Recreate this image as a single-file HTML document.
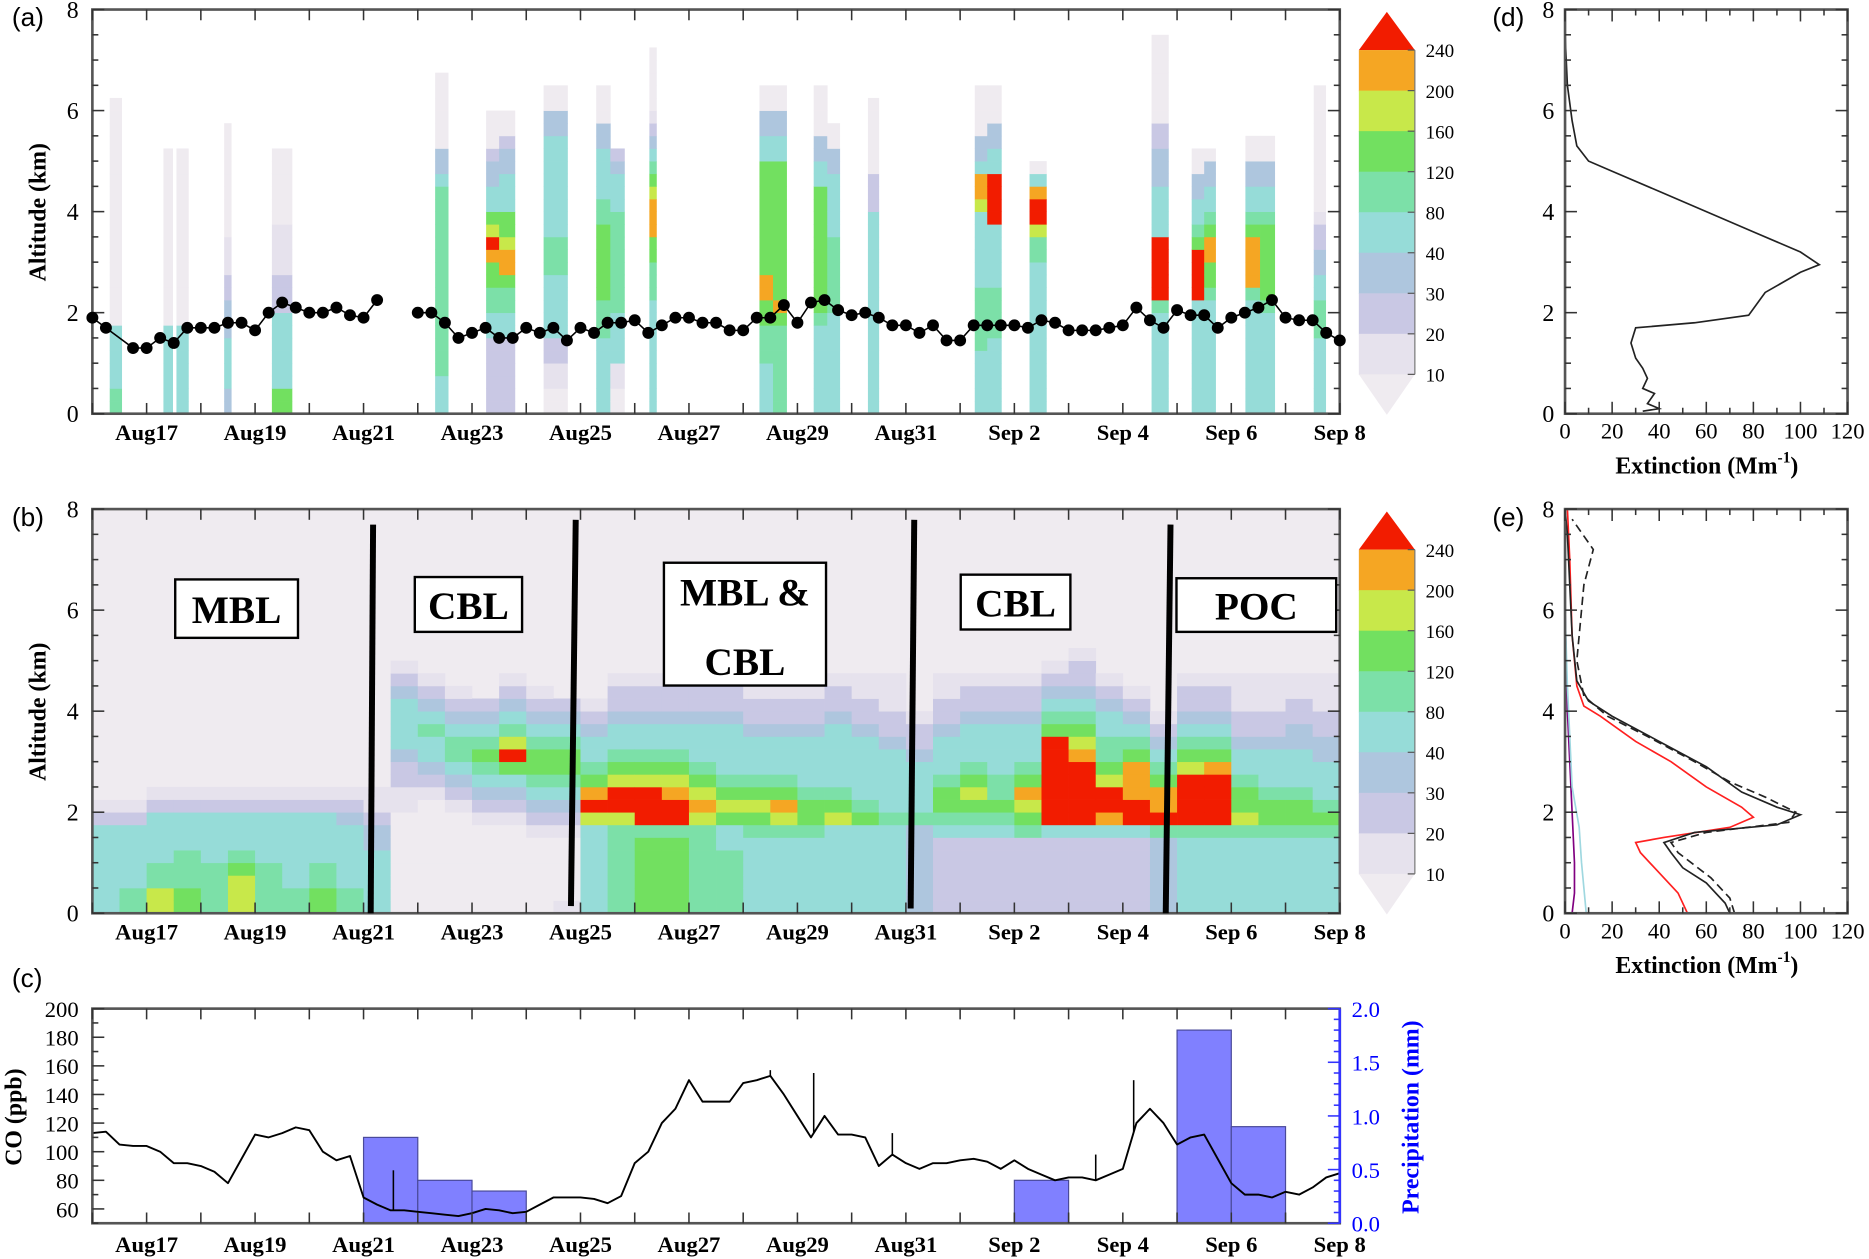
<!DOCTYPE html>
<html><head><meta charset="utf-8"><style>
html,body{margin:0;padding:0;background:#fff;}
svg{display:block;}
text{font-family:"Liberation Serif",serif;}
</style></head><body>
<svg id="fig" xmlns="http://www.w3.org/2000/svg" width="1869" height="1259" viewBox="0 0 1568 1056" preserveAspectRatio="none"></svg>
<script>
// ---------- DATA ----------
const levelColors = ['#efebf0','#e6e2ed','#c9c8e4','#aec6de','#96dcd8','#7ce0a8','#72e060','#c8e84a','#f5a623','#f21c00'];
const cbLabels = ['240','200','160','120','80','40','30','20','10'];
const dayLabels = ['Aug17','Aug19','Aug21','Aug23','Aug25','Aug27','Aug29','Aug31','Sep 2','Sep 4','Sep 6','Sep 8'];
const dayLabelPos = [1,3,5,7,9,11,13,15,17,19,21,23];
// panel a lidar columns [startDay, endDay, levels per 0.25 km bin]
const aCols = [
 [0.32,0.54,"5544444000000000000000000"],
 [1.31,1.48,"444444400000000000000"],
 [1.55,1.77,"444444400000000000000"],
 [2.43,2.56,"33444433322111000000000"],
 [3.31,3.68,"664444442221111000000"],
 [6.32,6.56,"444555555555555555433000000"],
 [7.26,7.50,"222222445566897644332000"],
 [7.50,7.79,"222222445568876644433200"],
 [8.32,8.76,"00112244444555444444443300"],
 [9.29,9.55,"44444455566666655444433000"],
 [9.55,9.81,"001144445555555544432"],
 [10.27,10.40,"44444444455566888765432100000"],
 [12.30,12.55,"44445556688666666666443300"],
 [12.55,12.80,"55555556866666666666443300"],
 [13.30,13.55,"44444445666666666644330000"],
 [13.55,13.78,"44444444555555444443300"],
 [14.30,14.50,"4444444444444444222000000"],
 [16.27,16.50,"44444555554444447884330000"],
 [16.50,16.76,"44444455554444499994433000"],
 [17.28,17.59,"44444444444455799840"],
 [19.53,19.84,"444444445999994444333220000000"],
 [20.27,20.50,"444444444999965443300"],
 [20.50,20.71,"444444444566886544330"],
 [21.26,21.53,"4444444445888865443300"],
 [21.53,21.80,"4444444456666665443300"],
 [22.52,22.74,"44444455544332210000000000"]
];
// panel a boundary-layer heights
const blTimes = [0,0.25,0.75,1,1.25,1.5,1.75,2,2.25,2.5,2.75,3,3.25,3.5,3.75,4,4.25,4.5,4.75,5,5.25,
 6,6.25,6.5,6.75,7,7.25,7.5,7.75,8,8.25,8.5,8.75,9,9.25,9.5,9.75,10,10.25,10.5,10.75,11,11.25,11.5,11.75,12,12.25,12.5,12.75,
 13,13.25,13.5,13.75,14,14.25,14.5,14.75,15,15.25,15.5,15.75,16,16.25,16.5,16.75,17,17.25,17.5,17.75,18,18.25,18.5,18.75,
 19,19.25,19.5,19.75,20,20.25,20.5,20.75,21,21.25,21.5,21.75,22,22.25,22.5,22.75,23];
const blAlts = [1.9,1.7,1.3,1.3,1.5,1.4,1.7,1.7,1.7,1.8,1.8,1.65,2.0,2.2,2.1,2.0,2.0,2.1,1.95,1.9,2.25,
 2.0,2.0,1.8,1.5,1.6,1.7,1.5,1.5,1.7,1.6,1.7,1.45,1.7,1.6,1.8,1.8,1.85,1.6,1.75,1.9,1.9,1.8,1.8,1.65,1.65,1.9,1.9,2.15,1.8,2.2,
 2.25,2.05,1.95,2.0,1.9,1.75,1.75,1.6,1.75,1.45,1.45,1.75,1.75,1.75,1.75,1.7,1.85,1.8,1.65,1.65,
 1.65,1.7,1.75,2.1,1.85,1.7,2.05,1.95,1.95,1.7,1.9,2.0,2.1,2.25,1.9,1.85,1.85,1.6,1.45];
// panel b: half-day columns, levels per 0.25 km bin
const bStart = [0,0.5,1,1.5,2,2.5,3,3.5,4,4.5,5,5.5,6,6.5,7,7.5,8,8.5,9,9.5,10,10.5,11,11.5,12,12.5,13,13.5,14,14.5,15,15.5,16,16.5,17,17.5,18,18.5,19,19.5,20,20.5,21,21.5,22,22.5];
const bCols = ["4444444210","5544444210","7755444421","6655544421","5555444421","7776544421","5555444421","5544444421","6655444421","5544444321",
 "4444433211","00000000112234444321","0000000001234454321","000000001234554321","00000001234565432","0000000123469754321","000000123456654321","10000012345665432",
 "44444447986544321","5555555799765443221","6666665999765443221","6666665998765443221","5555555787654443221","5555544676544443221","4444445676544432211",
 "4444445786544432211","4444445665444432211","4444444765444443221","4444444654444432211","4444444544444322111","3333333544443221","2222224566544432211",
 "2222224567654443221","2222224565544443221","2222225678654443221","22222249999999654321","222222499999876543221","2222224899765544321","222222499888654321",
 "3333335988654321","4444445999976543221","4444445999986543221","4444445766544322111","4444445665444322111","4444445665444332211","4444445654443322111"];
// panel c CO (ppb)
const coTimes = [0,0.25,0.5,0.75,1,1.25,1.5,1.75,2,2.25,2.5,2.75,3,3.25,3.5,3.75,4,4.25,4.5,4.75,5,5.25,5.5,5.75,6,6.25,6.5,6.75,7,7.25,7.5,7.75,8,8.25,8.5,8.75,9,9.25,9.5,9.75,
 10,10.25,10.5,10.75,11,11.25,11.5,11.75,12,12.25,12.5,12.75,13,13.25,13.5,13.75,14,14.25,14.5,14.75,15,15.25,15.5,15.75,16,16.25,16.5,16.75,17,17.25,17.5,17.75,
 18,18.25,18.5,18.75,19,19.25,19.5,19.75,20,20.25,20.5,20.75,21,21.25,21.5,21.75,22,22.25,22.5,22.75,23];
const coValues = [113,114,105,104,104,100,92,92,90,86,78,95,112,110,113,117,115,100,94,97,68,63,59,59,58,57,56,55,57,60,59,57,58,63,68,68,68,67,64,69,
 92,100,120,130,150,135,135,135,148,150,153,140,125,110,125,112,112,110,90,98,92,88,92,92,94,95,93,88,94,88,84,80,
 82,82,80,84,88,120,130,120,105,110,112,95,78,70,70,68,72,70,75,82,85];
const coSpikeTimes = [5.55,12.5,13.3,14.75,18.5,19.2];
const coSpikeValues = [87,157,155,113,98,150];
// precipitation (mm)
const prTimes = [5,6,7,17,20,21];
const prValues = [0.8,0.4,0.3,0.4,1.8,0.9];
// panel d extinction profile
const dExt = [33,40,35,38,33,35,33,30,28,30,55,78,85,100,108,100,80,60,40,20,10,5,3,1,0];
const dAlt = [0.05,0.1,0.2,0.4,0.5,0.7,0.9,1.1,1.4,1.7,1.8,1.95,2.4,2.8,2.95,3.2,3.6,4.0,4.4,4.8,5.0,5.3,5.8,6.5,7.5];
// panel e profiles
const eBlackExt = [70,68,60,50,45,42,55,90,100,90,75,60,40,20,10,5,3,2,1,0];
const eBlackAlt = [0,0.2,0.6,0.9,1.2,1.4,1.6,1.75,1.95,2.1,2.4,2.9,3.4,3.9,4.2,4.6,5.5,6.5,7.5,8];
const eDashExt = [72,70,62,48,45,60,95,98,85,70,55,35,18,8,5,8,12,3];
const eDashAlt = [0,0.3,0.7,1.2,1.4,1.6,1.8,2.0,2.3,2.6,3.0,3.5,3.9,4.3,5,6.5,7.2,7.8];
const eRedExt = [52,48,40,32,30,42,70,80,75,60,45,30,15,8,5,3,2,1];
const eRedAlt = [0,0.4,0.8,1.2,1.4,1.5,1.7,1.9,2.1,2.5,3.0,3.4,3.9,4.1,4.5,5.5,7,8];
const eCyanExt = [9,8,7,6,3,2,1,0];
const eCyanAlt = [0,0.5,1,1.7,2.5,3.5,4.5,6];
const ePurpExt = [3,4,4,3,2,1,0];
const ePurpAlt = [0,0.4,1,2,3,4,6];

// ---------- SCALES ----------
const NS='http://www.w3.org/2000/svg';
const svg=document.getElementById('fig');
const X=d=>77.5+d*45.5;
const Ya=z=>347-z*42.375;
const Yb=z=>766-z*42.375;
const Yco=v=>1026-(v-50)*1.2;
const Ypr=p=>1026-p*90;
const Xe=e=>1313+e*1.975;
const Yd=z=>347-z*42.375;
const Ye=z=>766-z*42.375;
function el(tag,attrs,parent){const e=document.createElementNS(NS,tag);for(const k in attrs)e.setAttribute(k,attrs[k]);(parent||svg).appendChild(e);return e;}
function grp(name){const g=el('g',{});


return g;}
function txt(parent,x,y,s,size,opts){const t=el('text',Object.assign({x:x,y:y,'font-size':size},opts||{}),parent);t.textContent=s;return t;}

// ---------- HEATMAPS ----------
function heat(g,d0,d1,str,Yf){for(let i=0;i<str.length;i++){const c=str[i];if(c==='.')continue;
 const r=el('rect',{x:X(d0),y:Yf((i+1)*0.25),width:X(d1)-X(d0)+0.3,height:Yf(0)-Yf(0.25)+0.3,fill:levelColors[+c]},g);
 
 }}
const gA=grp('panel-a-lidar');
aCols.forEach(c=>heat(gA,c[0],c[1],c[2],Ya));
const gB=grp('panel-b-model');
const bg=el('rect',{x:X(0),y:Yb(8),width:X(23)-X(0),height:Yb(0)-Yb(8),fill:levelColors[0]},gB);


bStart.forEach((d,i)=>heat(gB,d,Math.min(d+0.5,23),bCols[i],Yb));

// ---------- AXES ----------
function frame(g,x0,y0,x1,y1,name){const r=el('rect',{x:x0,y:y0,width:x1-x0,height:y1-y0,fill:'none',stroke:'#555','stroke-width':2.2},g);
 
 }
function timeAxis(g,y0,y1,ly){for(let d=0;d<=23;d++){el('line',{x1:X(d),x2:X(d),y1:y1,y2:y1-9,stroke:'#333','stroke-width':1.3},g);el('line',{x1:X(d),x2:X(d),y1:y0,y2:y0+9,stroke:'#333','stroke-width':1.3},g);}
 dayLabels.forEach((s,i)=>{const t=txt(g,X(dayLabelPos[i]),ly,s,19,{'text-anchor':'middle','font-weight':'bold'});
 
 });}
function altAxis(g,Yf,xl,xr,lx){for(let z=0;z<=8;z+=0.5){const L=(z%2===0)?10:5;el('line',{x1:xl,x2:xl+L,y1:Yf(z),y2:Yf(z),stroke:'#333','stroke-width':1.3},g);el('line',{x1:xr,x2:xr-L,y1:Yf(z),y2:Yf(z),stroke:'#333','stroke-width':1.3},g);}
 for(let z=0;z<=8;z+=2){const t=txt(g,lx,Yf(z)+7,String(z),20,{'text-anchor':'end'});
 
 }}
function ylabel(g,x,y,s,size,color,name){const t=txt(g,x,y,s,size,{'text-anchor':'middle','font-weight':'bold',fill:color||'#000',transform:`rotate(-90 ${x} ${y})`});
 
 }
function panelLabel(x,y,s){const t=el('text',{x:x,y:y,'font-size':22,style:'font-family:"Liberation Sans",sans-serif'});t.textContent=s;
 
 }

const axA=grp('panel-a-axes');frame(axA,X(0),Ya(8),X(23),Ya(0),'panel-a-frame');timeAxis(axA,Ya(8),Ya(0),369);altAxis(axA,Ya,X(0),X(23),66);ylabel(axA,38,178,'Altitude (km)',20,'#000','y-axis-title');
const axB=grp('panel-b-axes');frame(axB,X(0),Yb(8),X(23),Yb(0),'panel-b-frame');timeAxis(axB,Yb(8),Yb(0),788);altAxis(axB,Yb,X(0),X(23),66);ylabel(axB,38,597,'Altitude (km)',20,'#000','y-axis-title');
panelLabel(10,22,'(a)');panelLabel(10,441,'(b)');panelLabel(10,828,'(c)');panelLabel(1252,22,'(d)');panelLabel(1252,441,'(e)');

// BL line
const gBL=grp('boundary-layer-height');
function blSeg(i0,i1){const pts=[];for(let i=i0;i<=i1;i++)pts.push(X(blTimes[i])+','+Ya(blAlts[i]));const p=el('polyline',{points:pts.join(' '),fill:'none',stroke:'#000','stroke-width':1.3},gBL);
 
 }
let s0=0;for(let i=1;i<=blTimes.length;i++){if(i===blTimes.length||blTimes[i]-blTimes[i-1]>0.6){blSeg(s0,i-1);s0=i;}}
blTimes.forEach((t,i)=>{const c=el('circle',{cx:X(t),cy:Ya(blAlts[i]),r:5,fill:'#000'},gBL);
 
 });

// regime lines and boxes in b
const gR=grp('regime-annotations');
[[313,440,311,766],[483,436,479,760],[767,436,764,762],[982,440,978,766]].forEach(l=>{const e=el('line',{x1:l[0],y1:l[1],x2:l[2],y2:l[3],stroke:'#000','stroke-width':5},gR);
 
 });
[[147,486,103,49,'MBL',null],[348,484,90,46,'CBL',null],[557,472,136,103,'MBL &','CBL'],[806,482,92,46,'CBL',null],[987,485,134,45,'POC',null]].forEach(b=>{
 const r=el('rect',{x:b[0],y:b[1],width:b[2],height:b[3],fill:'#fff',stroke:'#000','stroke-width':2},gR);
 
 
 if(b[5]){txt(gR,b[0]+b[2]/2,b[1]+36,b[4],33,{'text-anchor':'middle','font-weight':'bold'});txt(gR,b[0]+b[2]/2,b[1]+94,b[5],33,{'text-anchor':'middle','font-weight':'bold'});}
 else txt(gR,b[0]+b[2]/2,b[1]+b[3]/2+12,b[4],33,{'text-anchor':'middle','font-weight':'bold'});});

// colorbars
function colorbar(top,name){const g=grp(name);const x0=1140,x1=1187;const base=top+34;
 el('polygon',{points:`${x0},${base} ${x1},${base} ${(x0+x1)/2},${top+2}`,fill:levelColors[9]},g);
 for(let k=0;k<8;k++){el('rect',{x:x0,y:base+k*34,width:x1-x0,height:34.5,fill:levelColors[8-k]},g);}
 const bot=base+8*34;el('polygon',{points:`${x0},${bot} ${x1},${bot} ${(x0+x1)/2},${bot+34}`,fill:levelColors[0]},g);
 cbLabels.forEach((s,i)=>{const y=base+i*34;el('line',{x1:x1-6,x2:x1,y1:y,y2:y,stroke:'#555'},g);
 const t=txt(g,1196,y+6,s,16,{});
 
 });
 el('line',{x1:x1,x2:x1,y1:base,y2:bot,stroke:'#777','stroke-width':1},g);}
colorbar(8,'colorbar-a');colorbar(427,'colorbar-b');

// ---------- PANEL C ----------
const gC=grp('panel-c');
prTimes.forEach((t,i)=>{const r=el('rect',{x:X(t),y:Ypr(prValues[i]),width:X(t+1)-X(t),height:Ypr(0)-Ypr(prValues[i]),fill:'#8080ff',stroke:'#4a4a9a','stroke-width':1},gC);
 
 });
const coPath=el('polyline',{points:coTimes.map((t,i)=>X(t)+','+Yco(coValues[i])).join(' '),fill:'none',stroke:'#000','stroke-width':1.6,'stroke-linejoin':'round'},gC);


coSpikeTimes.forEach((t,i)=>{let k=0;while(k<coTimes.length-1&&coTimes[k+1]<t)k++;const f=(t-coTimes[k])/(coTimes[k+1]-coTimes[k]);const base=coValues[k]+(coValues[k+1]-coValues[k])*f;
 const l=el('line',{x1:X(t),x2:X(t),y1:Yco(base),y2:Yco(coSpikeValues[i]),stroke:'#000','stroke-width':1.3},gC);
 
 });
frame(gC,X(0),Yco(200),X(23),1026,'panel-c-frame');
timeAxis(gC,Yco(200),1026,1050);
for(let v=50;v<=200;v+=10){const L=(v%20===0)?10:5;el('line',{x1:X(0),x2:X(0)+L,y1:Yco(v),y2:Yco(v),stroke:'#333','stroke-width':1.3},gC);
 if(v>=60&&v%20===0){const t=txt(gC,66,Yco(v)+7,String(v),19,{'text-anchor':'end'});
 
 }}
el('line',{x1:X(23),x2:X(23),y1:Yco(200),y2:1026,stroke:'#3333ff','stroke-width':2.2},gC);
for(let p=0;p<=20;p++){const v=p/10;const L=(p%5===0)?10:5;el('line',{x1:X(23),x2:X(23)-L,y1:Ypr(v),y2:Ypr(v),stroke:'#3333ff','stroke-width':1.3},gC);
 if(p%5===0){const t=txt(gC,1134,Ypr(v)+7,v.toFixed(1),19,{fill:'#0000ff'});
 
 }}
ylabel(gC,18,937,'CO (ppb)',20,'#000','co-axis-title');
ylabel(gC,1190,937,'Precipitation (mm)',20,'#0000ff','precip-axis-title');

// ---------- PANELS D, E ----------
function profileAxes(g,Yf,lblY,name){frame(g,1313,Yf(8),1550,Yf(0),name);
 for(let e=0;e<=120;e+=10){const L=(e%20===0)?10:5;el('line',{x1:Xe(e),x2:Xe(e),y1:Yf(0),y2:Yf(0)-L,stroke:'#333','stroke-width':1.3},g);el('line',{x1:Xe(e),x2:Xe(e),y1:Yf(8),y2:Yf(8)+L,stroke:'#333','stroke-width':1.3},g);
 if(e%20===0){const t=txt(g,Xe(e),lblY,String(e),19,{'text-anchor':'middle'});
 
 }}
 for(let z=0;z<=8;z+=0.5){const L=(z%2===0)?10:5;el('line',{x1:1313,x2:1313+L,y1:Yf(z),y2:Yf(z),stroke:'#333','stroke-width':1.3},g);el('line',{x1:1550,x2:1550-L,y1:Yf(z),y2:Yf(z),stroke:'#333','stroke-width':1.3},g);}
 for(let z=0;z<=8;z+=2){const t=txt(g,1304,Yf(z)+7,String(z),20,{'text-anchor':'end'});
 
 }
 const t=txt(g,1432,lblY+29,'Extinction (Mm',20,{'text-anchor':'middle','font-weight':'bold'});
 
 
 const ts=el('tspan',{'font-size':13,dy:-9},t);ts.textContent='-1';const te=el('tspan',{dy:9},t);te.textContent=')';}
function profile(g,ex,al,Yf,color,dash,name){const p=el('polyline',{points:ex.map((e,i)=>Xe(e)+','+Yf(al[i])).join(' '),fill:'none',stroke:color,'stroke-width':1.4,'stroke-dasharray':dash||'none'},g);
 
 }
const gD=grp('panel-d');
profile(gD,dExt,dAlt,Yd,'#222',null,'extinction-profile');
profileAxes(gD,Yd,368,'panel-d-frame');
const gE=grp('panel-e');
profile(gE,ePurpExt,ePurpAlt,Ye,'#800080',null,'purple-profile');
profile(gE,eCyanExt,eCyanAlt,Ye,'#9fd8e0',null,'cyan-profile');
profile(gE,eRedExt,eRedAlt,Ye,'#ff2020',null,'red-profile');
profile(gE,eDashExt,eDashAlt,Ye,'#222','7,4','dashed-profile');
profile(gE,eBlackExt,eBlackAlt,Ye,'#222',null,'black-profile');
profileAxes(gE,Ye,787,'panel-e-frame');
</script>
</body></html>
